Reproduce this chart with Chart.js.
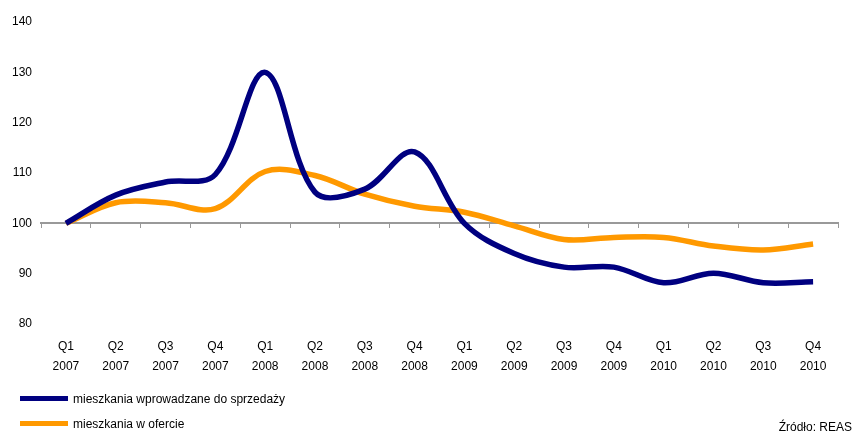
<!DOCTYPE html>
<html>
<head>
<meta charset="utf-8">
<script src="https://cdn.jsdelivr.net/npm/chart.js@4"></script>
<style>
  body { margin: 0; background: #fff; }
  #wrap { position: relative; width: 864px; height: 436px; font-family: 'Liberation Sans', Arial, sans-serif; }
  #legend { position: absolute; left: 20px; top: 386px; font-size: 12px; color: #000; }
  .item { display: flex; align-items: center; height: 25px; }
  .swatch { width: 48px; height: 5px; margin-right: 5px; }
  #source { position: absolute; right: 12px; top: 420px; font-size: 12px; color: #000; }
</style>
</head>
<body>
<div id="wrap">
  <canvas id="chart"></canvas>
  <div id="legend"></div>
  <div id="source">Źródło: REAS</div>
</div>
<script>
// kategorie (kwartały)
const quarters = ['Q1', 'Q2', 'Q3', 'Q4', 'Q1', 'Q2', 'Q3', 'Q4', 'Q1', 'Q2', 'Q3', 'Q4', 'Q1', 'Q2', 'Q3', 'Q4'];
const years = ['2007', '2007', '2007', '2007', '2008', '2008', '2008', '2008', '2009', '2009', '2009', '2009', '2010', '2010', '2010', '2010'];

// serie danych
const wprowadzane = [100, 105.6, 108.2, 109.7, 130, 106.2, 106.8, 114.2, 100, 94, 91.3, 91.3, 88.2, 90.1, 88.2, 88.4];
const wOfercie = [100, 104.1, 104.1, 102.9, 110.3, 109.5, 105.8, 103.4, 102.2, 99.5, 96.8, 97.2, 97.2, 95.5, 94.7, 95.9];

// oś Y
const yMin = 80;
const yMax = 140;
const yStep = 10;

const labels = quarters.map((q, i) => [q, years[i]]);
const font = { family: "'Liberation Sans', Arial, sans-serif", size: 12 };

const chart = new Chart(document.getElementById('chart'), {
    type: 'line',
    data: {
        labels: labels,
        datasets: [
            {
                label: 'mieszkania wprowadzane do sprzedaży',
                data: wprowadzane,
                borderColor: '#000080',
                backgroundColor: '#000080',
                borderWidth: 5.5,
                pointRadius: 0,
                tension: 0.35,
                fill: false,
                xAxisID: 'x'
            },
            {
                label: 'mieszkania w ofercie',
                data: wOfercie,
                borderColor: '#FF9900',
                backgroundColor: '#FF9900',
                borderWidth: 5.5,
                pointRadius: 0,
                tension: 0.35,
                fill: false,
                xAxisID: 'x'
            }
        ]
    },
    options: {
        responsive: true,
        maintainAspectRatio: false,
        animation: false,
        layout: { padding: { top: 22, right: 26, bottom: 62, left: 0 } },
        plugins: {
            legend: { display: false },
            tooltip: { enabled: false }
        },
        scales: {
            x: {
                type: 'category',
                position: 'bottom',
                offset: true,
                grid: { display: false, drawTicks: false },
                border: { display: false },
                ticks: {
                    color: '#000',
                    font: { ...font, lineHeight: 1.67 },
                    padding: 13,
                    maxRotation: 0,
                    autoSkip: false
                },
                afterFit: s => { s.height = 50; }
            },
            x2: {
                type: 'category',
                position: { y: 100 },
                offset: true,
                grid: {
                    display: true,
                    offset: true,
                    drawOnChartArea: false,
                    drawTicks: true,
                    tickLength: 4,
                    color: '#999999',
                    lineWidth: 1
                },
                border: { display: true, color: '#999999', width: 2 },
                ticks: { display: false }
            },
            y: {
                min: yMin,
                max: yMax,
                grid: { display: false, drawTicks: false },
                border: { display: false },
                ticks: {
                    stepSize: yStep,
                    color: '#000',
                    font: font,
                    padding: 9
                },
                afterFit: s => { s.width = 41; }
            }
        }
    }
});

// legenda pod wykresem
const legend = document.getElementById('legend');
chart.data.datasets.forEach(ds => {
    const item = document.createElement('div');
    item.className = 'item';
    item.innerHTML = `<div class="swatch" style="background:${ds.borderColor}"></div><span>${ds.label}</span>`;
    legend.appendChild(item);
});
</script>
</body>
</html>
